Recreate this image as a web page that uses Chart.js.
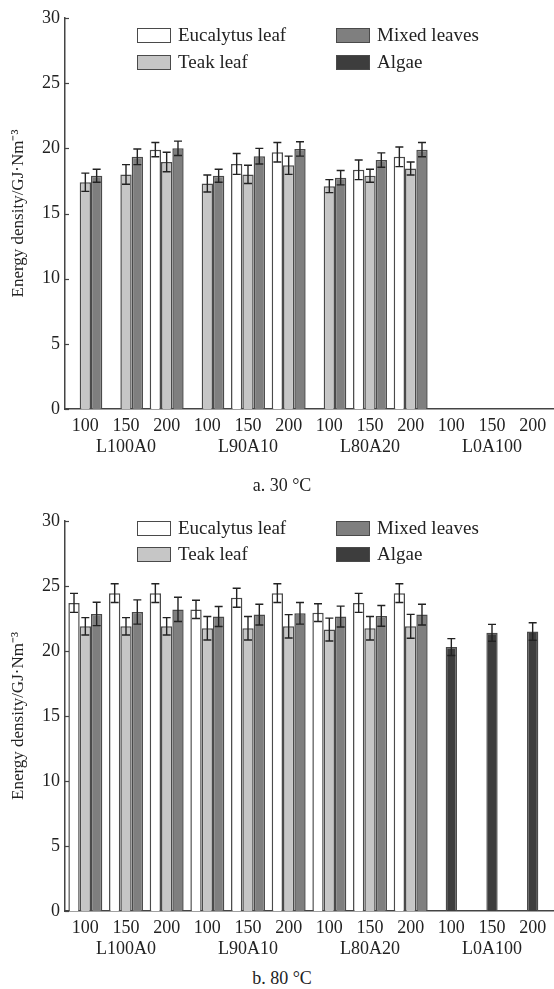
<!DOCTYPE html>
<html>
<head>
<meta charset="utf-8">
<script src="https://cdn.jsdelivr.net/npm/chart.js@4.4.0/dist/chart.umd.min.js"></script>
<style>
  body { margin: 0; background: #fff; font-family: "Liberation Serif", "Times New Roman", serif; color: #222; }
  #page { position: relative; width: 554px; height: 989px; overflow: hidden; }
  canvas { position: absolute; left: 0; }
  .leg { position: absolute; display: flex; align-items: center; height: 16px; font-size: 19px; white-space: nowrap; }
  .leg i { display: inline-block; width: 32px; height: 13px; border: 1.5px solid #4a4a4a; margin-right: 7px; }
  .cap { position: absolute; left: 0; width: 564px; text-align: center; font-size: 18px; }
</style>
</head>
<body>
<div id="page">
  <canvas id="c30" width="554" height="457" style="top:0"></canvas>
  <canvas id="c80" width="554" height="469" style="top:490px"></canvas>
  <div id="legends"></div>
  <div class="cap" style="top:475px">a. 30 °C</div>
  <div class="cap" style="top:968px">b. 80 °C</div>
</div>
<script>
// categories
const temps = ['100', '150', '200', '100', '150', '200', '100', '150', '200', '100', '150', '200'];
const groups = ['L100A0', 'L90A10', 'L80A20', 'L0A100'];
const seriesNames = ['Eucalytus leaf', 'Teak leaf', 'Mixed leaves', 'Algae'];
const seriesColors = ['#ffffff', '#c6c6c6', '#7f7f7f', '#3d3d3d'];
const yTicks = [0, 5, 10, 15, 20, 25, 30];

// 30 °C values (GJ·Nm-3) and error bars
const euc30 = [null, null, 19.9, null, 18.8, 19.7, null, 18.35, 19.35, null, null, null];
const teak30 = [17.4, 18.0, 18.95, 17.3, 18.0, 18.7, 17.1, 17.9, 18.45, null, null, null];
const mixed30 = [17.9, 19.35, 20.0, 17.9, 19.4, 19.95, 17.75, 19.1, 19.9, null, null, null];
const algae30 = [null, null, null, null, null, null, null, null, null, null, null, null];
const eucErr30 = [0, 0, 0.55, 0, 0.8, 0.75, 0, 0.75, 0.75, 0, 0, 0];
const teakErr30 = [0.7, 0.75, 0.75, 0.65, 0.7, 0.7, 0.5, 0.5, 0.5, 0, 0, 0];
const mixedErr30 = [0.5, 0.6, 0.55, 0.5, 0.6, 0.55, 0.55, 0.55, 0.55, 0, 0, 0];
const algaeErr30 = [0, 0, 0, 0, 0, 0, 0, 0, 0, 0, 0, 0];

// 80 °C values and error bars
const euc80 = [23.7, 24.45, 24.45, 23.2, 24.1, 24.45, 22.95, 23.7, 24.45, null, null, null];
const teak80 = [21.9, 21.9, 21.9, 21.75, 21.75, 21.9, 21.65, 21.75, 21.9, null, null, null];
const mixed80 = [22.85, 23.0, 23.2, 22.65, 22.8, 22.9, 22.65, 22.7, 22.8, null, null, null];
const algae80 = [null, null, null, null, null, null, null, null, null, 20.3, 21.4, 21.5];
const eucErr80 = [0.73, 0.72, 0.72, 0.7, 0.73, 0.72, 0.68, 0.73, 0.72, 0, 0, 0];
const teakErr80 = [0.67, 0.67, 0.67, 0.9, 0.9, 0.9, 0.88, 0.9, 0.92, 0, 0, 0];
const mixedErr80 = [0.9, 0.93, 0.93, 0.77, 0.8, 0.83, 0.8, 0.8, 0.8, 0, 0, 0];
const algaeErr80 = [0, 0, 0, 0, 0, 0, 0, 0, 0, 0.65, 0.65, 0.67];

const FONT = '"Liberation Serif", "Times New Roman", serif';
const INK = '#222';

// error bars drawn from the y scale
const errorBars = {
  id: 'errorBars',
  afterDatasetsDraw(chart) {
    const ctx = chart.ctx;
    const y = chart.scales.y;
    ctx.save();
    ctx.strokeStyle = '#222';
    ctx.lineWidth = 1.4;
    chart.data.datasets.forEach((ds, i) => {
      const meta = chart.getDatasetMeta(i);
      meta.data.forEach((bar, j) => {
        const v = ds.data[j];
        const e = ds.errors[j];
        if (v == null || !e) return;
        const x = bar.x;
        const top = y.getPixelForValue(v + e);
        const bot = y.getPixelForValue(v - e);
        ctx.beginPath();
        ctx.moveTo(x, top); ctx.lineTo(x, bot);
        ctx.moveTo(x - 4, top); ctx.lineTo(x + 4, top);
        ctx.moveTo(x - 4, bot); ctx.lineTo(x + 4, bot);
        ctx.stroke();
      });
    });
    ctx.restore();
  }
};

// small tick marks pointing into the plot
const innerTicks = {
  id: 'innerTicks',
  afterDraw(chart) {
    const ctx = chart.ctx;
    const y = chart.scales.y;
    ctx.save();
    ctx.strokeStyle = '#444';
    ctx.lineWidth = 1.2;
    y.ticks.forEach(t => {
      const py = Math.round(y.getPixelForValue(t.value)) + 0.5;
      ctx.beginPath();
      ctx.moveTo(y.right, py);
      ctx.lineTo(y.right + 4, py);
      ctx.stroke();
    });
    ctx.restore();
  }
};

function makeChart(id, padTop, values, errors) {
  const stacks = ['s1', 's2', 's3', 's2'];
  const datasets = seriesNames.map((name, i) => ({
    label: name,
    data: values[i],
    errors: errors[i],
    stack: stacks[i],
    backgroundColor: seriesColors[i],
    borderColor: '#4a4a4a',
    borderWidth: 1.5,
    categoryPercentage: 0.835,
    barPercentage: 1.0
  }));
  return new Chart(document.getElementById(id), {
    type: 'bar',
    data: { labels: temps, datasets },
    options: {
      responsive: false,
      animation: false,
      devicePixelRatio: 1,
      layout: { padding: { top: padTop, right: 1, left: 0, bottom: 0 } },
      plugins: { legend: { display: false }, tooltip: { enabled: false } },
      scales: {
        y: {
          min: 0, max: 30,
          afterBuildTicks: s => { s.ticks = yTicks.map(v => ({ value: v })); },
          afterFit: s => { s.width = 65; },
          grid: { display: false, drawTicks: false },
          border: { display: true, color: '#444', width: 1.5 },
          ticks: { color: INK, font: { family: FONT, size: 18 }, padding: 5 },
          title: {
            display: true,
            text: 'Energy density/GJ·Nm⁻³',
            color: INK,
            font: { family: FONT, size: 17 },
            padding: { top: 8, bottom: 0 }
          }
        },
        x: {
          weight: 0,
          afterFit: s => { s.height = 22; },
          grid: { display: false, drawTicks: false },
          border: { display: true, color: '#444', width: 1.5 },
          ticks: { color: INK, font: { family: FONT, size: 18 }, padding: 6, maxRotation: 0, autoSkip: false }
        },
        x2: {
          type: 'category',
          position: 'bottom',
          weight: 1,
          labels: groups,
          offset: true,
          afterFit: s => { s.height = 26; },
          grid: { display: false, drawTicks: false },
          border: { display: false },
          ticks: { color: INK, font: { family: FONT, size: 18 }, padding: 5, maxRotation: 0, autoSkip: false }
        }
      }
    },
    plugins: [errorBars, innerTicks]
  });
}

makeChart('c30', 18, [euc30, teak30, mixed30, algae30], [eucErr30, teakErr30, mixedErr30, algaeErr30]);
makeChart('c80', 31, [euc80, teak80, mixed80, algae80], [eucErr80, teakErr80, mixedErr80, algaeErr80]);

// legends inside the plot areas
const legendRows = [[27, 54], [520, 546]];
const legendCols = [137, 336];
const legendHost = document.getElementById('legends');
legendRows.forEach(rows => {
  seriesNames.forEach((name, i) => {
    const col = i === 0 || i === 1 ? 0 : 1;
    const row = i % 2;
    const el = document.createElement('div');
    el.className = 'leg';
    el.style.left = legendCols[col] + 'px';
    el.style.top = rows[row] + 'px';
    el.innerHTML = '<i style="background:' + seriesColors[i] + '"></i>' + name;
    legendHost.appendChild(el);
  });
});
</script>
</body>
</html>
